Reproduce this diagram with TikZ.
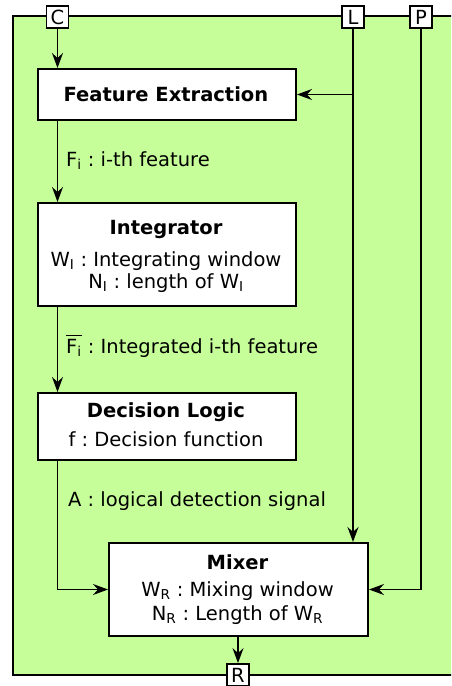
\documentclass[tikz,border=0pt]{standalone}
\usepackage{fontspec}
\setmainfont{DejaVu Sans}
\usetikzlibrary{arrows.meta}
\definecolor{bggreen}{RGB}{198,255,153}
\frenchspacing
\newcommand{\ovlbox}[1]{\leavevmode\vbox{\hrule height 1.4pt\kern 3pt\hbox{#1}}}
\tikzset{
  ln/.style={line width=1.8pt},
  arr/.style={ln,-{Stealth[length=15pt,width=11pt,inset=5pt]}},
  blk/.style={draw,fill=white,line width=2pt,inner sep=0pt,anchor=north west},
  port/.style={draw,fill=white,line width=1.8pt,minimum size=22pt,inner sep=0pt,font=\fontsize{19.5}{22}\selectfont},
  ttl/.style={anchor=base,inner sep=0pt,font=\fontsize{19.5}{22}\selectfont\bfseries},
  txt/.style={anchor=base,inner sep=0pt,font=\fontsize{19.5}{22}\selectfont},
  lbl/.style={anchor=base west,inner sep=0pt,font=\fontsize{19.5}{22}\selectfont}
}
\begin{document}
\begin{tikzpicture}[x=1pt,y=-1pt]
\useasboundingbox (0,0) rectangle (451,686);
\clip (0,0) rectangle (451,686);
% frame
\draw[ln,line width=2pt,fill=bggreen] (13,16) rectangle (470,675);
% blocks
\node[blk,minimum width=258pt,minimum height=51pt] (FE) at (37,68) {};
\node[blk,minimum width=258pt,minimum height=103pt] (Int) at (37,202) {};
\node[blk,minimum width=258pt,minimum height=67pt] (DL) at (37,392) {};
\node[blk,minimum width=259pt,minimum height=93pt] (Mix) at (108,542) {};
% block texts
\node[ttl] (feT) at (166,101) {Feature Extraction};
\node[ttl] (intT) at (166,234) {Integrator};
\node[txt] (intA) at (166,266.5) {W\textsubscript{I} : Integrating window};
\node[txt] (intB) at (166,288.5) {N\textsubscript{I} : length of W\textsubscript{I}};
\node[ttl] (dlT) at (166,417.7) {Decision Logic};
\node[txt] (dlA) at (166,446) {f : Decision function};
\node[ttl] (mixT) at (237.5,569) {Mixer};
\node[txt] (mixA) at (237.5,596.7) {W\textsubscript{R} : Mixing window};
\node[txt] (mixB) at (237.5,620) {N\textsubscript{R} : Length of W\textsubscript{R}};
% connector labels
\node[lbl] (l1) at (66,166.7) {F\textsubscript{i} : i-th feature};
\node[lbl] (l2) at (66,353.3) {\ovlbox{F\textsubscript{i}} : Integrated i-th feature};
\node[lbl] (l3) at (68,506.7) {A : logical detection signal};
% ports
\node[port] (C) at (57.5,17) {C};
\node[port] (L) at (353,17) {L};
\node[port] (P) at (421,17) {P};
\node[port] (R) at (238,675) {R};
% connectors
\draw[arr] (C) -- (C |- FE.north);
\draw[arr] (FE.south -| C) -- (Int.north -| C);
\draw[arr] (Int.south -| C) -- (DL.north -| C);
\draw[arr] (DL.south -| C) |- (Mix.west);
\draw[arr] (L) -- (L |- Mix.north);
\draw[arr] (L |- FE.east) -- (FE.east);
\draw[arr] (P) |- (Mix.east);
\draw[arr] (Mix.south -| R) -- (R.north);
\end{tikzpicture}
\end{document}
